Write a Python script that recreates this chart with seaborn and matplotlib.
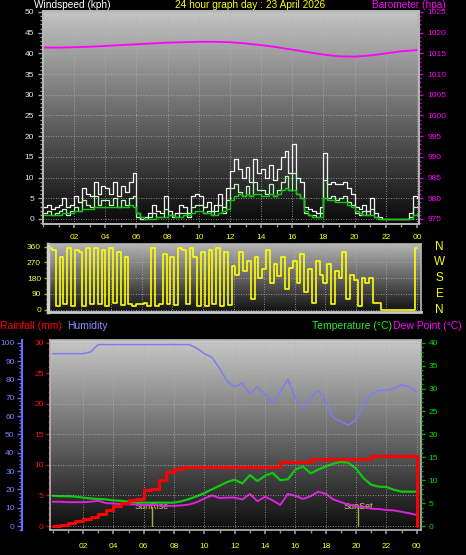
import numpy as np
import pandas as pd
import matplotlib
matplotlib.use('Agg')
import matplotlib.pyplot as plt
import matplotlib.transforms as mtransforms
from matplotlib.colors import LinearSegmentedColormap
from matplotlib.ticker import MultipleLocator
import seaborn as sns

# ─── SETTINGS ───────────────────────────────────────────────────────────────
sns.set_theme(style='dark')
plt.rcParams['font.family'] = ['Liberation Sans', 'DejaVu Sans']
plt.rcParams['figure.facecolor'] = 'black'
plt.rcParams['axes.facecolor'] = 'black'

GRID = '#b0b0b0'
FRAME = '#b8b8b8'
YELLOW = '#ffff00'

# ─── DATA ───────────────────────────────────────────────────────────────────
hours_15 = np.arange(0, 24.25, 0.25)   # logger samples every 15 min
hours_30 = np.arange(0, 24.5, 0.5)     # every 30 min
hours_60 = np.arange(0, 25, 1)         # hourly

gust = [3, 3.5, 2.5, 3,
        3.5, 5, 3, 3.5,
        5.5, 4, 7.5, 6,
        5.5, 9, 6, 8,
        7.5, 6, 9, 5.5,
        8, 6.5, 9, 11,
        1.5, 0, 0.5, 1.5,
        3.5, 2, 1.5, 5.5,
        2, 1, 1.5, 3.5,
        3, 1.5, 5.5, 6,
        5.5, 3, 4, 2,
        3.5, 6, 3, 7.5,
        11.5, 14.5, 12, 10,
        12.5, 9, 14.5, 11,
        12, 10, 13, 9.5,
        12, 15, 16.5, 11,
        18, 10, 9, 3,
        2.5, 2, 1.5, 3,
        16, 8.5, 9, 8.5,
        8.5, 9, 7.5, 6,
        3, 2.5, 3.5, 2,
        5, 1.5, 0.5, 0,
        0, 0, 0, 0,
        0, 0, 1.5, 5.5,
        5]

speed = [1.5, 2, 1, 1.5,
         2, 2.5, 1, 2,
         3, 2, 4.5, 3.5,
         3, 5.5, 3.5, 4.5,
         4.5, 3.5, 5, 3,
         4.5, 3.5, 5, 5.5,
         0.5, 0, 0, 0.5,
         1.5, 0.5, 0.5, 2.5,
         1, 0.5, 0.5, 1.5,
         1.5, 0.5, 3, 3.5,
         3.5, 1.5, 2, 1,
         2, 3.5, 1.5, 4.5,
         7.5, 8.5, 6.5, 5.5,
         8, 5.5, 9, 7,
         7, 6, 8.5, 5.5,
         7, 9, 10.5, 7,
         11, 6, 5, 1.5,
         1, 1, 0.5, 1.5,
         9.5, 5, 5.5, 4.5,
         5, 5.5, 4, 3.5,
         1.5, 1, 2, 1,
         2.5, 0.5, 0, 0,
         0, 0, 0, 0,
         0, 0, 0.5, 3,
         3]

avg_speed = [1, 1, 1, 1,
             1, 1.5, 1.5, 1.5,
             2, 2, 2.5, 2.5,
             2.5, 3, 3, 3,
             3, 3, 3, 3,
             3, 3, 3.5, 3,
             1.5, 0.5, 0, 0,
             0, 0.5, 0.5, 0.5,
             1, 1, 0.5, 0.5,
             1, 1, 1.5, 2,
             2, 1.5, 1.5, 1,
             1, 1.5, 2, 2.5,
             4.5, 5.5, 6, 5.5,
             6, 5.5, 6, 6,
             5.5, 5.5, 6, 5.5,
             6, 7, 7.5, 7,
             7, 6, 5, 2,
             1, 0.5, 0.5, 0.5,
             5, 4.5, 4.5, 4,
             4, 4, 3.5, 3,
             2, 1.5, 1, 1,
             1, 0.5, 0, 0,
             0, 0, 0, 0,
             0, 0, 0, 1,
             1.5]

baro = [1016.4, 1016.4, 1016.5, 1016.6, 1016.8, 1017.0, 1017.2, 1017.4,
        1017.6, 1017.7, 1017.8, 1017.8, 1017.7, 1017.4, 1017.0, 1016.5,
        1015.9, 1015.3, 1014.7, 1014.3, 1014.2, 1014.5, 1015.0, 1015.5,
        1015.8]

wind_dir = [350, 340, 20, 300,
            30, 350, 20, 340,
            330, 20, 350, 30,
            350, 30, 340, 20,
            355, 40, 330, 25,
            300, 30, 20, 30,
            30, 40, 20, 350,
            20, 30, 320, 30,
            300, 25, 350, 340,
            30, 350, 300, 20,
            330, 20, 340, 30,
            350, 20, 330, 25,
            250, 200, 330, 220,
            280, 60, 300, 180,
            230, 340, 150, 260,
            190, 300, 120, 240,
            280, 150, 320, 100,
            230, 40, 280, 200,
            150, 260, 30, 220,
            180, 330, 60, 200,
            170, 20, 180, 150,
            180, 40, 40, 0,
            0, 0, 0, 0,
            0, 0, 0, 0,
            350]

humidity = [94, 94, 94, 94, 94, 95, 99, 99, 99, 99,
            99, 99, 99, 99, 99, 99, 99, 99, 99, 97,
            94, 92, 86, 79, 76, 78, 72, 76, 72, 67,
            73, 80, 70, 64, 70, 74, 68, 59, 57, 55,
            58, 67, 72, 74, 74, 75, 77, 76, 73]

rain_hours = list(hours_30) + [24.0]
rain = [0, 0.2, 0.5, 0.8, 1.1, 1.5, 2.0, 2.6, 3.2, 3.8,
        4.2, 4.4, 5.9, 6.0, 7.6, 8.8, 9.3, 9.6, 9.6, 9.6,
        9.6, 9.6, 9.6, 9.6, 9.6, 9.6, 9.6, 9.6, 9.6, 9.6,
        10.4, 10.4, 10.4, 10.4, 11.0, 11.0, 11.0, 11.0, 11.0, 11.0,
        11.0, 11.0, 11.5, 11.5, 11.5, 11.5, 11.5, 11.5, 11.5, 0]

temperature = [6.6, 6.5, 6.5, 6.4, 6.2, 6.0, 5.9, 5.8, 5.6, 5.5,
               5.3, 5.1, 5.1, 5.1, 5.1, 5.1, 5.1, 5.4, 5.9, 6.5,
               7.2, 8.0, 8.8, 9.6, 10.1, 9.3, 11.1, 9.8, 11.0, 11.6,
               10.0, 10.2, 12.3, 13.0, 11.5, 12.3, 13.0, 13.6, 14.0, 13.8,
               12.5, 10.4, 9.0, 8.6, 8.5, 7.9, 7.5, 7.5, 7.5]

dew_point = [5.3, 5.3, 5.2, 5.2, 5.2, 5.3, 5.5, 5.0, 4.9, 4.8,
             4.7, 4.7, 4.6, 4.6, 4.5, 4.4, 4.4, 4.5, 4.7, 5.2,
             6.0, 6.7, 6.1, 6.2, 6.2, 5.8, 7.0, 5.4, 6.4, 5.6,
             4.6, 7.0, 6.6, 5.9, 6.5, 7.5, 7.0, 5.8, 5.2, 4.7,
             4.3, 4.1, 3.8, 3.7, 3.5, 3.4, 3.1, 2.8, 2.4]

sunrise, sunset = 6.53, 20.15
hour_ticks = [2, 4, 6, 8, 10, 12, 14, 16, 18, 20, 22, 24]
hour_labels = ['02', '04', '06', '08', '10', '12', '14', '16', '18', '20', '22', '00']
compass = ['N', 'W', 'S', 'E', 'N']
compass_deg = [360, 270, 180, 90, 0]

wind_df = pd.DataFrame({'hour': hours_15, 'gust': gust, 'speed': speed,
                        'avg': avg_speed, 'dir': wind_dir})
baro_df = pd.DataFrame({'hour': hours_60, 'baro': baro})
th_df = pd.DataFrame({'hour': hours_30, 'hum': humidity, 'temp': temperature,
                      'dew': dew_point})
rain_df = pd.DataFrame({'hour': rain_hours, 'rain': rain})


# ─── HELPERS ────────────────────────────────────────────────────────────────
def shade(ax, top, bottom):
    cmap = LinearSegmentedColormap.from_list('bg', [bottom, top])
    ax.imshow(np.linspace(0, 1, 256).reshape(-1, 1), cmap=cmap, origin='lower',
              aspect='auto', extent=(0, 1, 0, 1), transform=ax.transAxes,
              zorder=0, interpolation='bilinear')


def yaxis_style(ax, side, major, minor, tick_color, label_color, length=3.5, pad=2.5):
    ax.yaxis.set_major_locator(MultipleLocator(major))
    ax.yaxis.set_minor_locator(MultipleLocator(minor))
    left = side == 'left'
    ax.tick_params(axis='y', which='both', left=left, right=not left,
                   labelleft=left, labelright=not left, color=tick_color,
                   direction='out', width=1)
    ax.tick_params(axis='y', which='major', length=length, labelsize=6,
                   labelcolor=label_color, pad=pad)
    ax.tick_params(axis='y', which='minor', length=length * 0.6)


def frame(ax, color=FRAME, lw=1.2):
    for sp in ax.spines.values():
        sp.set_color(color)
        sp.set_linewidth(lw)


def xaxis_style(ax, pad):
    ax.set_xticks(hour_ticks, hour_labels)
    ax.xaxis.set_minor_locator(MultipleLocator(1))
    ax.tick_params(axis='x', which='both', bottom=True, color='#909090',
                   direction='out', labelcolor=YELLOW, labelsize=6, pad=pad)
    ax.tick_params(axis='x', which='major', length=3)
    ax.tick_params(axis='x', which='minor', length=2)


fig = plt.figure(figsize=(4.66, 5.55), dpi=100)

# ─── PANEL 1: WIND SPEED + BAROMETER ────────────────────────────────────────
ax1 = fig.add_axes([43 / 466, 1 - 224 / 555, 376 / 466, 213 / 555])
shade(ax1, '#c4c4c4', '#080808')
sns.lineplot(data=wind_df, x='hour', y='gust', ax=ax1, color='#f2f2f2', lw=0.9,
             drawstyle='steps-post', estimator=None)
sns.lineplot(data=wind_df, x='hour', y='speed', ax=ax1, color='#b8f5b8', lw=0.9,
             drawstyle='steps-post', estimator=None)
sns.lineplot(data=wind_df, x='hour', y='avg', ax=ax1, color='#10c810', lw=1.0,
             drawstyle='steps-post', estimator=None)
ax1.set(xlabel='', ylabel='', xlim=(0, 24.13), ylim=(-1.21, 50.24))
ax1.grid(True, which='major', color=GRID, ls=(0, (1, 2)), lw=0.6)
yaxis_style(ax1, 'left', 5, 1, '#a0a0a0', '#e4ebff', length=3.5, pad=3)
xaxis_style(ax1, pad=4)
frame(ax1)

axb = ax1.twinx()
sns.lineplot(data=baro_df, x='hour', y='baro', ax=axb, color='#ff00ff', lw=1.3)
axb.set(xlabel='', ylabel='', ylim=(973.79, 1025.24))
yaxis_style(axb, 'right', 5, 1, '#d000d0', '#ff00ff', length=3, pad=3)
frame(axb)

fig.text(34 / 466, 1 - 5 / 555, 'Windspeed (kph)', color='white', fontsize=7.3,
         ha='left', va='center')
fig.text(250 / 466, 1 - 5 / 555, '24 hour graph day : 23 April 2026', color=YELLOW,
         fontsize=7.3, ha='center', va='center')
fig.text(446 / 466, 1 - 5 / 555, 'Barometer (hpa)', color='#ff00ff', fontsize=7.3,
         ha='right', va='center')

# ─── PANEL 2: WIND DIRECTION ────────────────────────────────────────────────
ax2 = fig.add_axes([48 / 466, 1 - 312 / 555, 373 / 466, 68 / 555])
shade(ax2, '#b4b4b4', '#101010')
sns.lineplot(data=wind_df, x='hour', y='dir', ax=ax2, color='#ffff00', lw=1.2,
             drawstyle='steps-mid', estimator=None)
ax2.set(xlabel='', ylabel='', xlim=(-0.13, 24.26), ylim=(-13.1, 375.4))
ax2.set_xticks(hour_ticks)
ax2.tick_params(axis='x', bottom=False, labelbottom=False)
ax2.grid(True, which='major', color=GRID, ls=(0, (1, 2)), lw=0.6)
yaxis_style(ax2, 'left', 90, 30, '#b0b000', '#ffff40', length=3, pad=2)
frame(ax2)
ax2.spines['left'].set_linewidth(2.5)
ax2.spines['left'].set_color('#d0d0d0')
ax2.spines['bottom'].set_linewidth(2)
ax2.spines['bottom'].set_color('#c8c8c8')
comp_tr = mtransforms.blended_transform_factory(ax2.transAxes, ax2.transData)
for lab, deg in zip(compass, compass_deg):
    ax2.text(1.05, deg, lab, transform=comp_tr, color=YELLOW, fontsize=8.5,
             ha='center', va='center')

# ─── PANEL 3: HUMIDITY / RAIN / TEMPERATURE / DEW POINT ─────────────────────
ax3 = fig.add_axes([50 / 466, 1 - 530 / 555, 371 / 466, 190 / 555])
shade(ax3, '#c8c8c8', '#0c0c0c')
sns.lineplot(data=th_df, x='hour', y='hum', ax=ax3, color='#7c7cf4', lw=1.1)
ax3.set(xlabel='', ylabel='', xlim=(-0.18, 24.28), ylim=(-2.18, 101.47))
ax3.grid(True, which='major', axis='x', color=GRID, ls=(0, (1, 2)), lw=0.6)
yaxis_style(ax3, 'left', 10, 2, '#6a6aff', '#7a86ff', length=3.5, pad=2)
xaxis_style(ax3, pad=6)
frame(ax3)
ax3.spines['left'].set_position(('outward', 20))
ax3.spines['left'].set_color('#6a6aff')
ax3.spines['left'].set_linewidth(1.5)

sun_tr = mtransforms.blended_transform_factory(ax3.transData, ax3.transAxes)
for t, lab in [(sunrise, 'SunRise'), (sunset, 'SunSet')]:
    ax3.axvline(t, ymin=0.02, ymax=0.12, color='#a8a848', lw=1)
    ax3.text(t, 0.123, lab, transform=sun_tr, color='#d0d070', fontsize=6.5,
             ha='center', va='center')

ax3t = ax3.twinx()
sns.lineplot(data=th_df, x='hour', y='temp', ax=ax3t, color='#10c810', lw=1.6)
sns.lineplot(data=th_df, x='hour', y='dew', ax=ax3t, color='#e020e0', lw=1.4)
ax3t.set(xlabel='', ylabel='', ylim=(-0.87, 40.59))
yaxis_style(ax3t, 'right', 5, 1, '#00b000', '#00e000', length=3, pad=2.5)
for sp in ax3t.spines.values():
    sp.set_visible(False)

ax3r = ax3.twinx()
sns.lineplot(data=rain_df, x='hour', y='rain', ax=ax3r, color='#ff0000', lw=2.2,
             drawstyle='steps-post', estimator=None, sort=False)
ax3r.set(xlabel='', ylabel='', ylim=(-0.65, 30.44))
ax3r.yaxis.tick_left()
yaxis_style(ax3r, 'left', 5, 1, '#e00000', '#ff1010', length=3, pad=1.5)
ax3r.grid(True, which='major', axis='y', color=GRID, ls=(0, (1, 2)), lw=0.6)
for name, sp in ax3r.spines.items():
    sp.set_visible(name == 'left')
ax3r.spines['left'].set_color(FRAME)
ax3r.spines['left'].set_linewidth(1.2)

fig.text(0 / 466, 1 - 326 / 555, 'Rainfall (mm)', color='#ff0000', fontsize=7.5,
         ha='left', va='center')
fig.text(67 / 466, 1 - 326 / 555, 'Humidity', color='#8c8cff', fontsize=7.5,
         ha='left', va='center')
fig.text(392 / 466, 1 - 326 / 555, 'Temperature (°C)', color='#22ee22', fontsize=7.5,
         ha='right', va='center')
fig.text(462 / 466, 1 - 326 / 555, 'Dew Point (°C)', color='#ff00ff', fontsize=7.5,
         ha='right', va='center')

fig.savefig('out.png', dpi=100, facecolor='black')
plt.close(fig)
